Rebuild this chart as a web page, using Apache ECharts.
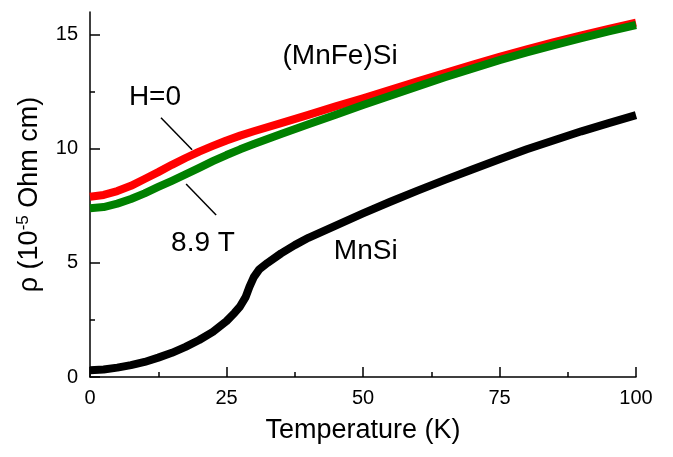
<!DOCTYPE html>
<html>
<head>
<meta charset="utf-8">
<script src="https://cdn.jsdelivr.net/npm/echarts@6/dist/echarts.min.js"></script>
<style>
  html, body { margin: 0; padding: 0; background: #fff; }
  #chart { width: 673px; height: 457px; }
</style>
</head>
<body>
<div id="chart"></div>
<script>
// Resistivity of MnSi and (MnFe)Si versus temperature
const mnsiT   = [0, 2.5, 5, 7.5, 10, 12.5, 15, 17.5, 20, 22.5, 25, 26.5, 27.5, 28.5, 29.2, 30, 31, 32.5, 35, 37.5, 40, 45, 50, 55, 60, 65, 70, 75, 80, 85, 90, 95, 100];
const mnsiRho = [0.30, 0.33, 0.41, 0.52, 0.66, 0.85, 1.06, 1.32, 1.62, 1.98, 2.45, 2.82, 3.10, 3.50, 3.95, 4.38, 4.72, 5.00, 5.42, 5.78, 6.10, 6.64, 7.17, 7.68, 8.17, 8.64, 9.10, 9.55, 9.98, 10.38, 10.77, 11.13, 11.48];

const fesiT      = [0, 2.5, 5, 7.5, 10, 12.5, 15, 17.5, 20, 22.5, 25, 27.5, 30, 35, 40, 45, 50, 55, 60, 65, 70, 75, 80, 85, 90, 95, 100];
const fesiRhoH0  = [7.90, 7.98, 8.15, 8.38, 8.68, 8.98, 9.30, 9.60, 9.88, 10.13, 10.37, 10.58, 10.77, 11.13, 11.49, 11.86, 12.22, 12.59, 12.96, 13.32, 13.68, 14.03, 14.36, 14.68, 14.98, 15.26, 15.53];
const fesiRhoH89 = [7.40, 7.45, 7.60, 7.80, 8.05, 8.33, 8.60, 8.88, 9.17, 9.46, 9.73, 9.98, 10.21, 10.65, 11.08, 11.50, 11.92, 12.33, 12.74, 13.14, 13.52, 13.89, 14.23, 14.55, 14.86, 15.15, 15.43];

const yTickValues = [0, 5, 10, 15];

// Text annotations placed in data coordinates
const noteNames  = ['(MnFe)Si', 'H=0', '8.9 T', 'MnSi'];
const notePoints = [[45.8, 14.04], [11.9, 12.28], [20.7, 5.88], [50.5, 5.53]];
// Leader lines from the field labels to the curves
const leaderLines = [
  [[13.0, 11.36], [18.7, 9.96]],
  [[17.6, 8.46], [23.1, 7.10]]
];

const zip = (xs, ys) => xs.map((x, i) => [x, ys[i]]);

const FONT = '"Liberation Sans", Arial, sans-serif';
const chart = echarts.init(document.getElementById('chart'), null, { renderer: 'canvas' });

const curve = (name, xs, ys, color, z) => ({
  name, type: 'line', data: zip(xs, ys),
  smooth: false, showSymbol: false, symbol: 'none',
  lineStyle: { color, width: 8, cap: 'butt', join: 'round' }, z
});

chart.setOption({
  animation: false,
  backgroundColor: '#ffffff',
  grid: { left: 90, right: 37, top: 12, bottom: 80, containLabel: false },
  xAxis: {
    type: 'value',
    min: 0, max: 100, interval: 25,
    name: 'Temperature (K)',
    nameLocation: 'middle',
    nameGap: 40,
    nameTextStyle: { fontFamily: FONT, fontSize: 27, color: '#000' },
    axisLine: { show: true, lineStyle: { color: '#000', width: 1.5 } },
    axisTick: { show: true, inside: true, length: 10, lineStyle: { color: '#000', width: 1.5 } },
    minorTick: { show: true, splitNumber: 2, length: 5, lineStyle: { color: '#000', width: 1.5 } },
    axisLabel: { fontFamily: FONT, fontSize: 20, color: '#000', margin: 11 },
    splitLine: { show: false }
  },
  yAxis: {
    type: 'value',
    min: 0, max: 16,
    interval: 5,
    name: 'ρ (10{sup|-5} Ohm cm)',
    nameLocation: 'middle',
    nameRotate: 90,
    nameGap: 44,
    nameTextStyle: {
      fontFamily: FONT, fontSize: 27, color: '#000', lineHeight: 30,
      rich: { sup: { fontFamily: FONT, fontSize: 17, color: '#000', verticalAlign: 'top', lineHeight: 20 } }
    },
    axisLine: { show: true, lineStyle: { color: '#000', width: 1.5 } },
    axisTick: { show: true, inside: true, length: 10, customValues: yTickValues, lineStyle: { color: '#000', width: 1.5 } },
    minorTick: { show: true, splitNumber: 2, length: 5, lineStyle: { color: '#000', width: 1.5 } },
    axisLabel: { fontFamily: FONT, fontSize: 20, color: '#000', margin: 12, customValues: yTickValues },
    splitLine: { show: false }
  },
  series: [
    curve('H=0', fesiT, fesiRhoH0, '#ff0000', 2),
    curve('8.9 T', fesiT, fesiRhoH89, '#008000', 3),
    curve('MnSi', mnsiT, mnsiRho, '#000000', 4),
    {
      name: 'notes', type: 'scatter', symbolSize: 0, silent: true, z: 5,
      itemStyle: { opacity: 1 },
      data: notePoints.map((p, i) => ({ value: p, name: noteNames[i] })),
      label: {
        show: true, position: 'inside', formatter: '{b}',
        fontFamily: FONT, fontSize: 28, color: '#000', opacity: 1
      },
      markLine: {
        silent: true, symbol: 'none', animation: false,
        label: { show: false },
        lineStyle: { color: '#000', width: 1.5, type: 'solid', opacity: 1 },
        data: leaderLines.map(([a, b]) => [{ coord: a }, { coord: b }])
      }
    }
  ]
});
</script>
</body>
</html>
